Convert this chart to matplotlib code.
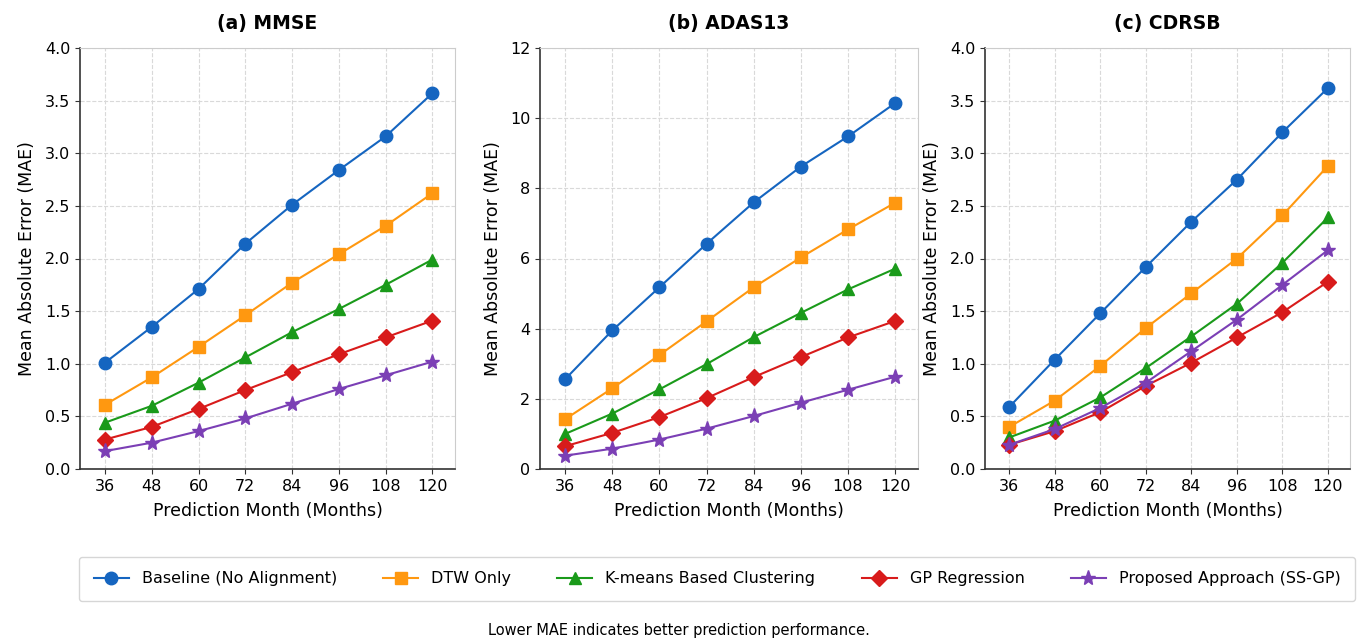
import numpy as np
import matplotlib
matplotlib.use("Agg")
import matplotlib.pyplot as plt

months = [36, 48, 60, 72, 84, 96, 108, 120]

methods = ["Baseline (No Alignment)", "DTW Only", "K-means Based Clustering",
           "GP Regression", "Proposed Approach (SS-GP)"]

mmse_baseline = [1.01, 1.35, 1.71, 2.14, 2.51, 2.84, 3.16, 3.57]
mmse_dtw = [0.61, 0.87, 1.16, 1.46, 1.77, 2.04, 2.31, 2.62]
mmse_kmeans = [0.44, 0.60, 0.82, 1.06, 1.30, 1.52, 1.75, 1.99]
mmse_gp = [0.28, 0.40, 0.57, 0.75, 0.92, 1.09, 1.25, 1.41]
mmse_ssgp = [0.17, 0.25, 0.36, 0.48, 0.62, 0.76, 0.89, 1.02]

adas_baseline = [2.56, 3.95, 5.18, 6.42, 7.60, 8.62, 9.48, 10.43]
adas_dtw = [1.42, 2.30, 3.25, 4.21, 5.18, 6.03, 6.83, 7.59]
adas_kmeans = [1.00, 1.58, 2.27, 2.99, 3.76, 4.45, 5.12, 5.71]
adas_gp = [0.65, 1.03, 1.48, 2.02, 2.62, 3.19, 3.75, 4.22]
adas_ssgp = [0.38, 0.58, 0.84, 1.15, 1.51, 1.89, 2.26, 2.63]

cdr_baseline = [0.59, 1.04, 1.48, 1.92, 2.35, 2.75, 3.20, 3.62]
cdr_dtw = [0.40, 0.65, 0.98, 1.34, 1.67, 2.00, 2.41, 2.88]
cdr_kmeans = [0.30, 0.46, 0.68, 0.96, 1.26, 1.57, 1.96, 2.39]
cdr_gp = [0.23, 0.36, 0.54, 0.79, 1.01, 1.25, 1.49, 1.78]
cdr_ssgp = [0.23, 0.38, 0.58, 0.82, 1.12, 1.42, 1.75, 2.08]

panels = [
    ("(a) MMSE", [mmse_baseline, mmse_dtw, mmse_kmeans, mmse_gp, mmse_ssgp], 4.0, 0.5),
    ("(b) ADAS13", [adas_baseline, adas_dtw, adas_kmeans, adas_gp, adas_ssgp], 12, 2),
    ("(c) CDRSB", [cdr_baseline, cdr_dtw, cdr_kmeans, cdr_gp, cdr_ssgp], 4.0, 0.5),
]

colors = ["#1565C0", "#FF9810", "#1A9A1A", "#D81B1B", "#7B3FB5"]
markers = ["o", "s", "^", "D", "*"]
msizes = [9, 8.5, 9, 8, 11]

W, H = 1358, 638
fig = plt.figure(figsize=(W / 100, H / 100), dpi=100)

# axes boxes in pixel coords: left, right
boxes = [(80, 455), (540, 918), (985, 1350)]
top_px, bot_px = 48, 469

handles = []
for (title, series, ymax, ystep), (l, r) in zip(panels, boxes):
    ax = fig.add_axes([l / W, 1 - bot_px / H, (r - l) / W, (bot_px - top_px) / H])
    for i, vals in enumerate(series):
        h, = ax.plot(months, vals, color=colors[i], marker=markers[i],
                     markersize=msizes[i], linewidth=1.5, label=methods[i])
        if len(handles) < len(methods):
            handles.append(h)
    ax.set_xlim(29.6, 125.8)
    ax.set_ylim(0, ymax)
    ax.set_xticks(months)
    yt = np.arange(0, ymax + ystep / 2, ystep)
    ax.set_yticks(yt)
    if ystep < 1:
        ax.set_yticklabels([f"{v:.1f}" for v in yt])
    else:
        ax.set_yticklabels([f"{int(v)}" for v in yt])
    ax.grid(True, linestyle="--", color="#d9d9d9", linewidth=0.8)
    ax.set_axisbelow(True)
    ax.tick_params(labelsize=11.5, color="#333333")
    for s in ["top", "right"]:
        ax.spines[s].set_color("#cccccc")
    for s in ["left", "bottom"]:
        ax.spines[s].set_color("#333333")
        ax.spines[s].set_linewidth(1.2)
    ax.set_title(title, fontsize=13.5, fontweight="bold", pad=14)
    ax.set_xlabel("Prediction Month (Months)", fontsize=12.5, labelpad=6)
    ax.set_ylabel("Mean Absolute Error (MAE)", fontsize=12.5, labelpad=6)

leg = fig.legend(handles=handles, loc="center", ncol=5,
                 bbox_to_anchor=(717 / W, 1 - 579 / H), fontsize=11.5,
                 frameon=True, fancybox=True, handlelength=2.2,
                 handletextpad=0.8, columnspacing=2.9, borderpad=0.9)
leg.get_frame().set_edgecolor("#cccccc")

fig.text(0.5, 1 - 630 / H, "Lower MAE indicates better prediction performance.",
         ha="center", va="center", fontsize=10.5)

fig.savefig("out.png", dpi=100)
